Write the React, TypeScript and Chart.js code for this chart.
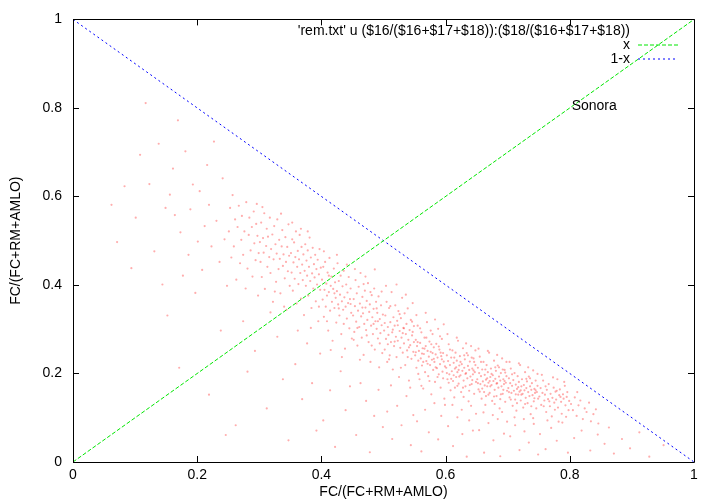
import { useEffect, useRef } from "react";
import { Chart, registerables } from "chart.js";

Chart.register(...registerables);

const FONT = "'Liberation Sans', Arial, Helvetica, sans-serif";

const xTicks = [0, 0.2, 0.4, 0.6, 0.8, 1];
const yTicks = [0, 0.2, 0.4, 0.6, 0.8, 1];
const xTitle = "FC/(FC+RM+AMLO)";
const yTitle = "FC/(FC+RM+AMLO)";
const keyLabels = ["'rem.txt' u ($16/($16+$17+$18)):($18/($16+$17+$18))", "x", "1-x"];
const annotation = "Sonora";

// scatter, region by region: [x, y]
const sparseLeft: [number, number][] = [
  [0.062,0.581],[0.071,0.497],[0.083,0.623],[0.094,0.438],[0.101,0.552],[0.108,0.694],[0.117,0.811],[0.123,0.628],
  [0.131,0.476],[0.138,0.719],[0.144,0.401],[0.149,0.574],[0.152,0.331],[0.156,0.604],[0.161,0.663],[0.164,0.558],
  [0.169,0.772],[0.173,0.519],[0.177,0.421],[0.181,0.702],[0.186,0.468],[0.189,0.571],[0.193,0.627],[0.197,0.382],
  [0.201,0.498],[0.204,0.612],[0.208,0.434],[0.212,0.533],[0.216,0.671],[0.219,0.581],[0.223,0.487],[0.227,0.724],
  [0.231,0.545],[0.236,0.452],[0.241,0.641],[0.244,0.503],[0.248,0.398],
];

const bandA: [number, number][] = [
  [0.251,0.521],[0.253,0.574],[0.255,0.462],[0.257,0.603],[0.259,0.487],[0.261,0.548],[0.263,0.412],[0.265,0.531],
  [0.267,0.579],[0.269,0.449],[0.271,0.502],[0.272,0.556],[0.274,0.468],[0.276,0.521],[0.278,0.392],[0.279,0.587],
  [0.281,0.437],[0.283,0.513],[0.284,0.552],[0.286,0.478],[0.288,0.531],[0.289,0.419],[0.291,0.566],[0.292,0.494],
  [0.294,0.456],[0.295,0.538],[0.297,0.511],[0.298,0.376],[0.299,0.472],[0.296,0.583],
  [0.301,0.497],[0.302,0.452],[0.303,0.541],[0.304,0.418],[0.306,0.506],[0.307,0.473],[0.308,0.562],[0.309,0.391],
  [0.311,0.488],[0.312,0.527],[0.313,0.441],[0.314,0.509],[0.316,0.463],[0.317,0.552],[0.318,0.427],[0.319,0.481],
  [0.321,0.514],[0.322,0.362],[0.323,0.458],[0.324,0.533],[0.326,0.492],[0.327,0.407],[0.328,0.471],[0.329,0.548],
  [0.331,0.436],[0.332,0.502],[0.333,0.459],[0.334,0.381],[0.336,0.487],[0.337,0.524],[0.338,0.443],[0.339,0.469],
  [0.341,0.415],[0.342,0.508],[0.343,0.452],[0.344,0.344],[0.345,0.486],[0.346,0.431],[0.347,0.537],[0.348,0.466],
  [0.349,0.398],[0.305,0.576],[0.325,0.385],[0.335,0.561],[0.340,0.351],
  [0.351,0.472],[0.352,0.428],[0.353,0.503],[0.354,0.387],[0.355,0.451],[0.356,0.496],[0.357,0.414],[0.358,0.463],
  [0.359,0.521],[0.360,0.358],[0.361,0.441],[0.362,0.477],[0.363,0.402],[0.364,0.458],[0.365,0.513],[0.366,0.427],
  [0.367,0.369],[0.368,0.486],[0.369,0.446],[0.370,0.411],[0.371,0.469],[0.372,0.332],[0.373,0.432],[0.374,0.492],
  [0.375,0.398],[0.376,0.455],[0.377,0.421],[0.378,0.478],[0.379,0.376],[0.380,0.441],[0.381,0.507],[0.382,0.409],
  [0.383,0.462],[0.384,0.348],[0.385,0.426],[0.386,0.484],[0.387,0.392],[0.388,0.447],[0.389,0.417],[0.390,0.468],
  [0.391,0.363],[0.392,0.436],[0.393,0.401],[0.394,0.457],[0.395,0.318],[0.396,0.424],[0.397,0.481],[0.398,0.389],
  [0.399,0.439],[0.353,0.541],[0.367,0.527],[0.383,0.303],[0.396,0.351],[0.378,0.521],[0.362,0.297],
];

const bandB: [number, number][] = [
  [0.401,0.412],[0.402,0.367],[0.403,0.441],[0.404,0.328],[0.405,0.389],[0.406,0.452],[0.407,0.351],[0.408,0.403],
  [0.409,0.376],[0.410,0.428],[0.411,0.297],[0.412,0.384],[0.413,0.461],[0.414,0.342],[0.415,0.398],[0.416,0.419],
  [0.417,0.362],[0.418,0.274],[0.419,0.391],[0.420,0.437],[0.421,0.348],[0.422,0.406],[0.423,0.371],[0.424,0.315],
  [0.425,0.386],[0.426,0.449],[0.427,0.356],[0.428,0.409],[0.429,0.331],[0.430,0.378],[0.431,0.421],[0.432,0.289],
  [0.433,0.363],[0.434,0.397],[0.435,0.344],[0.436,0.432],[0.437,0.372],[0.438,0.256],[0.439,0.351],[0.440,0.401],
  [0.441,0.324],[0.442,0.383],[0.443,0.359],[0.444,0.418],[0.445,0.302],[0.446,0.368],[0.447,0.392],[0.448,0.337],
  [0.449,0.279],[0.404,0.476],[0.415,0.253],[0.425,0.468],[0.433,0.237],[0.441,0.446],[0.447,0.357],[0.409,0.318],
  [0.421,0.381],[0.436,0.312],[0.412,0.421],[0.428,0.347],
  [0.451,0.331],[0.452,0.368],[0.453,0.294],[0.454,0.352],[0.455,0.411],[0.456,0.317],[0.457,0.381],[0.458,0.263],
  [0.459,0.342],[0.460,0.396],[0.461,0.305],[0.462,0.358],[0.463,0.427],[0.464,0.329],[0.465,0.281],[0.466,0.373],
  [0.467,0.336],[0.468,0.242],[0.469,0.312],[0.470,0.387],[0.471,0.349],[0.472,0.298],[0.473,0.364],[0.474,0.321],
  [0.475,0.404],[0.476,0.271],[0.477,0.339],[0.478,0.356],[0.479,0.226],[0.480,0.308],[0.481,0.377],[0.482,0.327],
  [0.483,0.289],[0.484,0.346],[0.485,0.392],[0.486,0.254],[0.487,0.318],[0.488,0.362],[0.489,0.301],[0.490,0.337],
  [0.491,0.279],[0.492,0.374],[0.493,0.214],[0.494,0.323],[0.495,0.291],[0.496,0.354],[0.497,0.309],[0.498,0.246],
  [0.499,0.333],[0.454,0.436],[0.462,0.231],[0.471,0.419],[0.479,0.384],[0.486,0.435],[0.494,0.268],[0.458,0.303],
  [0.466,0.349],[0.473,0.286],[0.481,0.263],[0.489,0.347],[0.497,0.385],[0.452,0.276],[0.468,0.402],[0.484,0.312],
  [0.491,0.318],
  [0.501,0.297],[0.502,0.254],[0.503,0.331],[0.504,0.278],[0.505,0.362],[0.506,0.226],[0.507,0.305],[0.508,0.287],
  [0.509,0.348],[0.510,0.241],[0.511,0.316],[0.512,0.271],[0.513,0.384],[0.514,0.293],[0.515,0.209],[0.516,0.327],
  [0.517,0.262],[0.518,0.308],[0.519,0.354],[0.520,0.283],[0.521,0.237],[0.522,0.319],[0.523,0.274],[0.524,0.341],
  [0.525,0.192],[0.526,0.296],[0.527,0.258],[0.528,0.325],[0.529,0.281],[0.530,0.371],[0.531,0.247],[0.532,0.303],
  [0.533,0.268],[0.534,0.336],[0.535,0.219],[0.536,0.289],[0.537,0.312],[0.538,0.252],[0.539,0.347],[0.540,0.276],
  [0.541,0.184],[0.542,0.298],[0.543,0.264],[0.544,0.321],[0.545,0.233],[0.546,0.286],[0.547,0.359],[0.548,0.249],
  [0.549,0.307],[0.504,0.398],[0.512,0.173],[0.521,0.401],[0.528,0.213],[0.536,0.378],[0.543,0.168],[0.549,0.271],
  [0.507,0.266],[0.515,0.299],[0.523,0.309],[0.531,0.291],[0.539,0.237],[0.546,0.317],[0.502,0.314],[0.509,0.232],
  [0.518,0.272],[0.526,0.334],[0.533,0.302],[0.541,0.259],[0.547,0.294],[0.511,0.352],
];

const bandC: [number, number][] = [
  [0.551,0.241],[0.552,0.276],[0.553,0.213],[0.554,0.262],[0.555,0.308],[0.556,0.229],[0.557,0.251],[0.558,0.187],
  [0.559,0.269],[0.560,0.234],[0.561,0.293],[0.562,0.218],[0.563,0.257],[0.564,0.166],[0.565,0.244],[0.566,0.281],
  [0.567,0.203],[0.568,0.262],[0.569,0.228],[0.570,0.316],[0.571,0.251],[0.572,0.194],[0.573,0.238],[0.574,0.272],
  [0.575,0.219],[0.576,0.249],[0.577,0.153],[0.578,0.231],[0.579,0.289],[0.580,0.208],[0.581,0.259],[0.582,0.226],
  [0.583,0.181],[0.584,0.243],[0.585,0.267],[0.586,0.212],[0.587,0.236],[0.588,0.301],[0.589,0.198],[0.590,0.254],
  [0.591,0.221],[0.592,0.168],[0.593,0.239],[0.594,0.278],[0.595,0.204],[0.596,0.246],[0.597,0.227],[0.598,0.143],
  [0.599,0.216],[0.553,0.332],[0.561,0.172],[0.568,0.337],[0.576,0.297],[0.583,0.322],[0.591,0.284],[0.597,0.311],
  [0.556,0.199],[0.564,0.226],[0.571,0.222],[0.579,0.246],[0.587,0.192],[0.594,0.232],[0.552,0.248],[0.559,0.302],
  [0.566,0.256],[0.574,0.183],[0.581,0.233],[0.589,0.261],[0.596,0.189],[0.555,0.271],[0.562,0.245],[0.569,0.281],
  [0.577,0.266],[0.584,0.214],[0.592,0.247],
  [0.601,0.213],[0.602,0.241],[0.603,0.187],[0.604,0.228],[0.605,0.266],[0.606,0.198],[0.607,0.219],[0.608,0.162],
  [0.609,0.236],[0.610,0.205],[0.611,0.252],[0.612,0.183],[0.613,0.224],[0.614,0.146],[0.615,0.211],[0.616,0.247],
  [0.617,0.192],[0.618,0.229],[0.619,0.203],[0.620,0.274],[0.621,0.177],[0.622,0.218],[0.623,0.239],[0.624,0.196],
  [0.625,0.158],[0.626,0.221],[0.627,0.206],[0.628,0.257],[0.629,0.184],[0.630,0.213],[0.631,0.232],[0.632,0.171],
  [0.633,0.201],[0.634,0.246],[0.635,0.189],[0.636,0.217],[0.637,0.137],[0.638,0.208],[0.639,0.227],[0.640,0.193],
  [0.641,0.262],[0.642,0.176],[0.643,0.211],[0.644,0.198],[0.645,0.234],[0.646,0.154],[0.647,0.203],[0.648,0.219],
  [0.649,0.181],[0.603,0.289],[0.611,0.129],[0.618,0.281],[0.626,0.118],[0.633,0.268],[0.641,0.127],[0.648,0.252],
  [0.605,0.179],[0.613,0.196],[0.621,0.208],[0.628,0.168],[0.636,0.241],[0.643,0.185],[0.607,0.254],[0.615,0.168],
  [0.622,0.193],[0.630,0.241],[0.638,0.161],[0.645,0.207],[0.602,0.201],[0.609,0.188],[0.617,0.214],[0.624,0.226],
  [0.632,0.199],[0.639,0.174],[0.646,0.226],[0.614,0.236],[0.629,0.147],[0.642,0.236],[0.619,0.172],
  [0.651,0.187],[0.652,0.213],[0.653,0.164],[0.654,0.201],[0.655,0.238],[0.656,0.176],[0.657,0.194],[0.658,0.143],
  [0.659,0.209],[0.660,0.182],[0.661,0.226],[0.662,0.158],[0.663,0.197],[0.664,0.129],[0.665,0.186],[0.666,0.219],
  [0.667,0.171],[0.668,0.203],[0.669,0.179],[0.670,0.247],[0.671,0.156],[0.672,0.192],[0.673,0.211],[0.674,0.174],
  [0.675,0.138],[0.676,0.196],[0.677,0.183],[0.678,0.229],[0.679,0.163],[0.680,0.188],[0.681,0.206],[0.682,0.149],
  [0.683,0.178],[0.684,0.218],[0.685,0.168],[0.686,0.193],[0.687,0.121],[0.688,0.184],[0.689,0.201],[0.690,0.171],
  [0.691,0.234],[0.692,0.154],[0.693,0.187],[0.694,0.176],[0.695,0.208],[0.696,0.136],[0.697,0.179],[0.698,0.194],
  [0.699,0.161],[0.653,0.256],[0.661,0.112],[0.668,0.251],[0.676,0.106],[0.683,0.242],[0.691,0.113],[0.698,0.226],
  [0.655,0.159],[0.663,0.173],[0.671,0.183],[0.678,0.148],[0.686,0.214],[0.693,0.163],[0.657,0.226],[0.665,0.149],
  [0.672,0.171],[0.680,0.214],[0.688,0.142],[0.695,0.183],[0.652,0.178],[0.659,0.166],[0.667,0.189],[0.674,0.199],
  [0.682,0.177],[0.689,0.153],[0.696,0.202],[0.664,0.209],[0.679,0.131],[0.692,0.209],[0.669,0.152],
];

const bandD: [number, number][] = [
  [0.701,0.167],[0.702,0.189],[0.703,0.146],[0.704,0.178],[0.705,0.211],[0.706,0.156],[0.707,0.172],[0.708,0.127],
  [0.709,0.185],[0.710,0.161],[0.711,0.201],[0.712,0.141],[0.713,0.175],[0.714,0.116],[0.715,0.165],[0.716,0.194],
  [0.717,0.152],[0.718,0.181],[0.719,0.159],[0.720,0.219],[0.721,0.139],[0.722,0.171],[0.723,0.187],[0.724,0.154],
  [0.725,0.123],[0.726,0.174],[0.727,0.162],[0.728,0.203],[0.729,0.145],[0.730,0.167],[0.731,0.182],[0.732,0.133],
  [0.733,0.158],[0.734,0.193],[0.735,0.149],[0.736,0.171],[0.737,0.108],[0.738,0.163],[0.739,0.178],[0.740,0.151],
  [0.741,0.207],[0.742,0.137],[0.743,0.165],[0.744,0.156],[0.745,0.184],[0.746,0.121],[0.747,0.158],[0.748,0.172],
  [0.749,0.143],[0.703,0.226],[0.711,0.101],[0.718,0.223],[0.726,0.097],[0.733,0.214],[0.741,0.099],[0.748,0.199],
  [0.705,0.141],[0.713,0.153],[0.721,0.162],[0.728,0.131],[0.736,0.189],[0.743,0.144],[0.707,0.198],[0.715,0.133],
  [0.722,0.152],[0.730,0.188],[0.738,0.126],[0.745,0.162],[0.702,0.158],[0.717,0.169],
  [0.751,0.148],[0.753,0.167],[0.754,0.129],[0.756,0.156],[0.757,0.184],[0.759,0.139],[0.760,0.152],[0.762,0.113],
  [0.763,0.163],[0.765,0.142],[0.766,0.176],[0.768,0.126],[0.769,0.154],[0.771,0.103],[0.772,0.145],[0.774,0.168],
  [0.775,0.134],[0.777,0.159],[0.778,0.141],[0.780,0.187],[0.781,0.123],[0.783,0.151],[0.784,0.164],[0.786,0.136],
  [0.787,0.109],[0.789,0.153],[0.790,0.143],[0.792,0.172],[0.793,0.128],[0.795,0.147],[0.796,0.158],[0.798,0.117],
  [0.799,0.138],[0.755,0.197],[0.764,0.094],[0.773,0.191],[0.782,0.091],[0.791,0.181],[0.758,0.126],[0.767,0.137],
  [0.776,0.118],[0.785,0.147],[0.794,0.102],[0.761,0.171],[0.779,0.161],
  [0.802,0.131],[0.805,0.117],[0.808,0.146],[0.811,0.104],[0.814,0.128],[0.817,0.139],[0.821,0.097],[0.824,0.121],
  [0.827,0.113],[0.831,0.134],[0.834,0.092],[0.838,0.108],[0.842,0.119],[0.846,0.087],[0.812,0.158],
];

const lowerScatter: [number, number][] = [
  [0.171,0.213],[0.219,0.152],[0.238,0.297],[0.246,0.061],[0.262,0.083],[0.281,0.204],[0.293,0.251],[0.274,0.318],
  [0.312,0.121],[0.318,0.338],[0.329,0.283],[0.338,0.187],[0.347,0.049],[0.358,0.221],[0.369,0.142],[0.377,0.268],
  [0.385,0.178],[0.392,0.071],[0.398,0.245],[0.403,0.094],[0.414,0.162],[0.422,0.034],[0.431,0.205],[0.439,0.117],
  [0.446,0.171],[0.456,0.061],[0.463,0.178],[0.472,0.138],[0.478,0.022],[0.485,0.104],[0.492,0.163],[0.499,0.079],
  [0.506,0.114],[0.514,0.052],[0.522,0.127],[0.529,0.083],[0.537,0.149],[0.544,0.038],[0.548,0.106],[0.554,0.092],
  [0.561,0.024],[0.567,0.118],[0.573,0.067],[0.582,0.133],[0.588,0.051],[0.593,0.104],[0.599,0.129],[0.604,0.081],
  [0.612,0.036],[0.619,0.101],[0.627,0.063],[0.634,0.012],[0.638,0.094],[0.644,0.071],[0.649,0.109],[0.654,0.072],
  [0.662,0.021],[0.669,0.088],[0.677,0.049],[0.684,0.097],[0.688,0.013],[0.694,0.064],[0.699,0.091],[0.704,0.058],
  [0.712,0.083],[0.719,0.027],[0.727,0.069],[0.734,0.044],[0.742,0.086],[0.749,0.017],[0.752,0.063],[0.761,0.029],
  [0.770,0.077],[0.779,0.048],[0.788,0.089],[0.797,0.021],[0.807,0.054],[0.819,0.071],[0.833,0.026],[0.845,0.062],
  [0.856,0.041],[0.863,0.078],[0.871,0.019],[0.884,0.052],[0.897,0.031],[0.912,0.067],[0.928,0.012],[0.951,0.038],
];

const lineX: [number, number][] = [[0, 0], [1, 1]];
const lineOneMinusX: [number, number][] = [[0, 1], [1, 0]];

const GREEN = "rgb(0,230,0)";
const BLUE = "rgb(0,0,255)";

const toXY = (arr: [number, number][]) => arr.map(([x, y]) => ({ x, y }));

const framePlugin = {
  id: "gnuplotFrame",
  afterDatasetsDraw(chart: any) {
    const { ctx, chartArea } = chart;
    const { left, right, top, bottom } = chartArea;
    const xs = chart.scales.x;
    const ys = chart.scales.y;
    ctx.save();
    ctx.setLineDash([]);
    ctx.strokeStyle = "#000";
    ctx.lineWidth = 1;
    ctx.beginPath();
    ctx.rect(Math.round(left) + 0.5, Math.round(top) + 0.5, Math.round(right - left), Math.round(bottom - top));
    ctx.stroke();
    const tl = 6;
    ctx.beginPath();
    xTicks.forEach((v) => {
      const px = Math.round(xs.getPixelForValue(v)) + 0.5;
      ctx.moveTo(px, bottom);
      ctx.lineTo(px, bottom - tl);
      ctx.moveTo(px, top);
      ctx.lineTo(px, top + tl);
    });
    yTicks.forEach((v) => {
      const py = Math.round(ys.getPixelForValue(v)) + 0.5;
      ctx.moveTo(left, py);
      ctx.lineTo(left + tl, py);
      ctx.moveTo(right, py);
      ctx.lineTo(right - tl, py);
    });
    ctx.stroke();

    // key
    ctx.fillStyle = "#000";
    ctx.font = `14px ${FONT}`;
    ctx.textAlign = "right";
    ctx.textBaseline = "middle";
    const keyX = 630;
    const keyY = [31, 45, 59];
    keyLabels.forEach((t, i) => ctx.fillText(t, keyX, keyY[i]));

    ctx.lineWidth = 1;
    ctx.setLineDash([4, 2]);
    ctx.strokeStyle = GREEN;
    ctx.beginPath();
    ctx.moveTo(638, keyY[1]);
    ctx.lineTo(678, keyY[1]);
    ctx.stroke();

    ctx.setLineDash([2, 3]);
    ctx.strokeStyle = BLUE;
    ctx.beginPath();
    ctx.moveTo(638, keyY[2]);
    ctx.lineTo(678, keyY[2]);
    ctx.stroke();
    ctx.setLineDash([]);

    // label
    ctx.fillStyle = "#000";
    ctx.font = `14px ${FONT}`;
    ctx.textAlign = "left";
    ctx.fillText(annotation, xs.getPixelForValue(0.803), ys.getPixelForValue(0.803));
    ctx.restore();
  },
};

export default function App() {
  const ref = useRef<HTMLCanvasElement>(null);
  useEffect(() => {
    document.body.style.margin = "0";
    const canvas = ref.current!;
    const chart = new Chart(canvas, {
      type: "scatter",
      data: {
        datasets: [
          {
            label: keyLabels[0],
            data: toXY([...sparseLeft, ...bandA, ...bandB, ...bandC, ...bandD, ...lowerScatter]),
            pointRadius: 1.1,
            pointBorderWidth: 0,
            pointBackgroundColor: "rgba(255,0,0,0.32)",
            pointBorderColor: "rgba(0,0,0,0)",
            order: 3,
          } as any,
          {
            label: keyLabels[1],
            data: toXY(lineX),
            showLine: true,
            borderColor: GREEN,
            borderWidth: 1,
            borderDash: [4, 2],
            pointRadius: 0,
            order: 1,
          } as any,
          {
            label: keyLabels[2],
            data: toXY(lineOneMinusX),
            showLine: true,
            borderColor: BLUE,
            borderWidth: 1,
            borderDash: [2, 3],
            pointRadius: 0,
            order: 2,
          } as any,
        ],
      },
      options: {
        animation: false,
        responsive: false,
        maintainAspectRatio: false,
        events: [],
        layout: { padding: { left: 0, right: 26, top: 16, bottom: 0 } },
        plugins: { legend: { display: false }, tooltip: { enabled: false } },
        scales: {
          x: {
            type: "linear",
            min: 0,
            max: 1,
            afterBuildTicks: (s: any) => {
              s.ticks = xTicks.map((v) => ({ value: v }));
            },
            afterFit: (s: any) => {
              s.height = 42;
            },
            grid: { display: false, drawTicks: false },
            border: { display: false },
            ticks: {
              color: "#000",
              font: { family: FONT, size: 14 },
              padding: 5,
              maxRotation: 0,
              callback: (v: any) => String(Number(v)),
            },
            title: {
              display: true,
              text: xTitle,
              color: "#000",
              font: { family: FONT, size: 14 },
              padding: { top: 0, bottom: 3 },
            },
          },
          y: {
            type: "linear",
            min: 0,
            max: 1,
            afterBuildTicks: (s: any) => {
              s.ticks = yTicks.map((v) => ({ value: v }));
            },
            afterFit: (s: any) => {
              s.width = 73;
            },
            grid: { display: false, drawTicks: false },
            border: { display: false },
            ticks: {
              color: "#000",
              font: { family: FONT, size: 14 },
              padding: 11,
              callback: (v: any) => String(Number(v)),
            },
            title: {
              display: true,
              text: yTitle,
              color: "#000",
              font: { family: FONT, size: 14 },
              padding: { top: 8, bottom: 0 },
            },
          },
        },
      },
      plugins: [framePlugin],
    });
    return () => chart.destroy();
  }, []);
  return <canvas ref={ref} width={720} height={504} style={{ display: "block" }} />;
}
